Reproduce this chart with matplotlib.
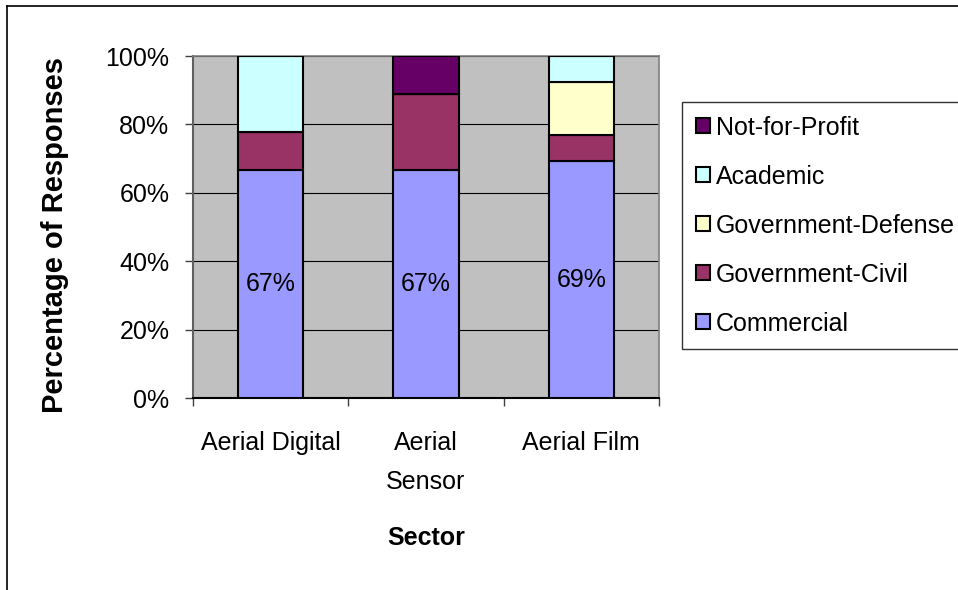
import numpy as np
import matplotlib
matplotlib.use('Agg')
import matplotlib.pyplot as plt
from matplotlib.lines import Line2D

plt.rcParams['font.family'] = ['Liberation Sans', 'DejaVu Sans']

# dados (percentual de respostas)
setores = ['Aerial Digital', 'Aerial\nSensor', 'Aerial Film']
categorias = ['Commercial', 'Government-Civil', 'Government-Defense', 'Academic', 'Not-for-Profit']
commercial = [66.7, 66.7, 69.2]
gov_civil = [11.1, 22.2, 7.7]
gov_defense = [0.0, 0.0, 15.4]
academic = [22.2, 0.0, 7.7]
not_for_profit = [0.0, 11.1, 0.0]
rotulos = ['67%', '67%', '69%']

cores = ['#9999FF', '#993366', '#FFFFCC', '#CCFFFF', '#660066']
series = [commercial, gov_civil, gov_defense, academic, not_for_profit]

fig = plt.figure(figsize=(9.58, 5.9), dpi=100)
ax = fig.add_axes([193/958, 1 - 398/590, 466/958, 342/590])
ax.set_facecolor('#C0C0C0')

x = np.arange(len(setores))
base = np.zeros(len(setores))
barras = []
for nome, valores, cor in zip(categorias, series, cores):
    b = ax.bar(x, valores, width=0.42, bottom=base, color=cor, edgecolor='black',
               linewidth=1.5, label=nome, zorder=3)
    barras.append(b)
    base = base + np.array(valores)

# rótulos no segmento Commercial
for xi, v, txt in zip(x, commercial, rotulos):
    ax.text(xi, v / 2, txt, ha='center', va='center', fontsize=18, zorder=4)

ax.set_xlim(-0.5, len(setores) - 0.5)
ax.set_ylim(0, 100)
ax.set_yticks(np.arange(0, 101, 20))
ax.set_yticklabels([f'{v}%' for v in range(0, 101, 20)])
ax.set_xticks(x)
ax.set_xticklabels(setores, linespacing=1.75)
ax.set_xticks(np.arange(-0.5, len(setores), 1.0), minor=True)
ax.tick_params(axis='x', which='major', length=0, pad=24, labelsize=18)
ax.tick_params(axis='x', which='minor', length=6, width=1, color='#404040')
ax.tick_params(axis='y', length=6, width=1, pad=11, labelsize=18, color='#404040')
ax.grid(axis='y', color='black', linewidth=0.8, zorder=1)

for s in ['top', 'right']:
    ax.spines[s].set_color('#808080')
    ax.spines[s].set_linewidth(1.2)
ax.spines['left'].set_color('#606060')
ax.spines['left'].set_linewidth(1.5)
ax.spines['bottom'].set_color('black')
ax.spines['bottom'].set_linewidth(1.5)

fig.text(55/958, 1 - 235/590, 'Percentage of Responses', rotation=90,
         ha='center', va='center', fontsize=21, fontweight='bold')
fig.text(426/958, 1 - 538/590, 'Sector', ha='center', va='center',
         fontsize=18, fontweight='bold')

handles = barras[::-1]
leg = fig.legend(handles, categorias[::-1], loc='upper left',
                 bbox_to_anchor=(682/958, 1 - 102/590), bbox_transform=fig.transFigure,
                 borderaxespad=0, fontsize=18, frameon=True, fancybox=False,
                 edgecolor='black', handlelength=0.55, handleheight=0.55,
                 handletextpad=0.25, labelspacing=1.0, borderpad=0.55)
leg.get_frame().set_linewidth(1.0)

# moldura da figura (só topo e esquerda visíveis)
fig.add_artist(Line2D([7/958, 7/958], [0, 1 - 6/590], color='black', linewidth=1.2,
                      transform=fig.transFigure))
fig.add_artist(Line2D([7/958, 1], [1 - 6/590, 1 - 6/590], color='black', linewidth=1.2,
                      transform=fig.transFigure))

fig.savefig('out.png', dpi=100)
plt.close()
